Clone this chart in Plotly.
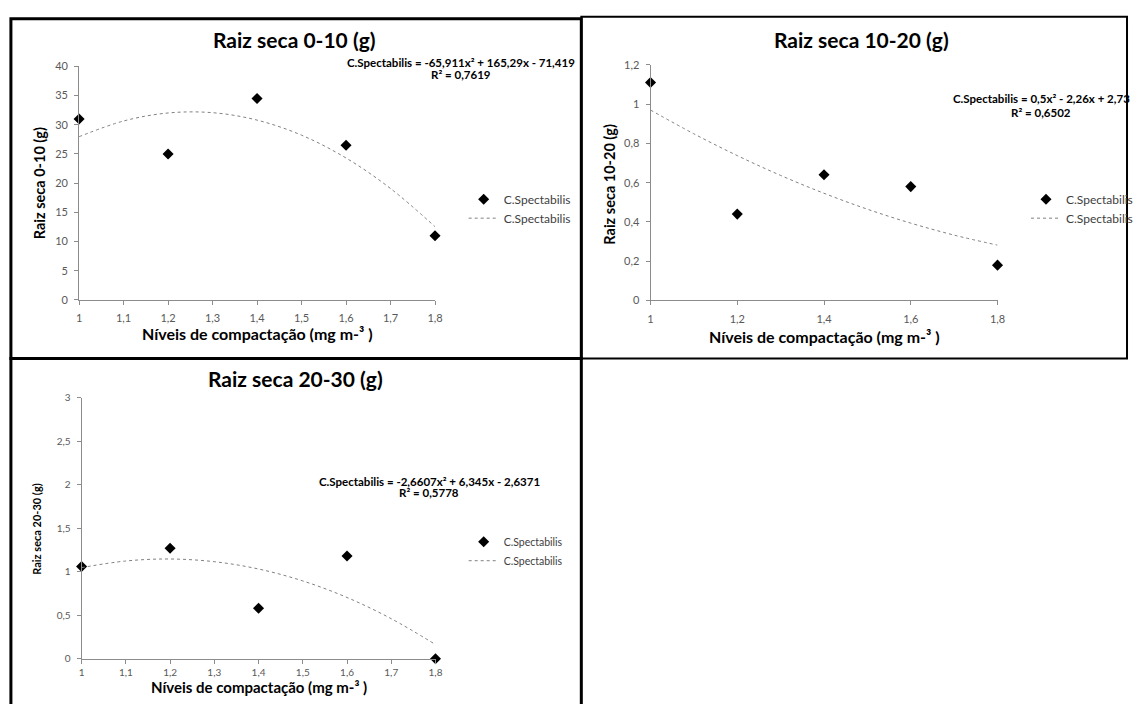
import plotly.graph_objects as go

W, H = 1138, 704

# ---- data ----
x_levels = [1.0, 1.2, 1.4, 1.6, 1.8]
raiz_0_10 = [31.0, 25.0, 34.5, 26.5, 11.0]
raiz_10_20 = [1.11, 0.44, 0.64, 0.58, 0.18]
raiz_20_30 = [1.06, 1.27, 0.58, 1.18, 0.0]

x_trend = [1.0, 1.1, 1.2, 1.3, 1.4, 1.5, 1.6, 1.7, 1.8]
trend_0_10 = [27.96, 30.65, 32.02, 32.07, 30.80, 28.22, 24.31, 19.09, 12.55]
trend_10_20 = [0.970, 0.849, 0.738, 0.637, 0.546, 0.465, 0.394, 0.333, 0.282]
trend_20_30 = [1.047, 1.123, 1.146, 1.115, 1.031, 0.894, 0.704, 0.460, 0.163]

titles = ["Raiz seca 0-10 (g)", "Raiz seca 10-20 (g)", "Raiz seca 20-30 (g)"]
ytitles = ["Raiz seca 0-10 (g)", "Raiz seca 10-20 (g)", "Raiz seca 20-30 (g)"]
xtitle = "Níveis de compactação (mg m-³ )"
equations = [
    "C.Spectabilis = -65,911x² + 165,29x - 71,419",
    "C.Spectabilis = 0,5x² - 2,26x + 2,73",
    "C.Spectabilis = -2,6607x² + 6,345x - 2,6371",
]
r2_texts = ["R² = 0,7619", "R² = 0,6502", "R² = 0,5778"]
series_name = "C.Spectabilis"

FONT = "Lato"
TICKC = "#595959"
AXC = "#8c8c8c"


def px(X):
    return X / W


def py(Y):
    return 1 - Y / H


fig = go.Figure()

# panel geometry in page pixels: (x_left, x_right, y_top, y_bottom)
panels = [
    dict(dom=(77, 437, 60.5, 298.5), yr=[0, 40], ydt=5, xdt=0.1, xs=raiz_0_10, tr=trend_0_10, tf=11, xso=4),
    dict(dom=(655, 1006, 59, 299), yr=[0, 1.2], ydt=0.2, xdt=0.2, xs=raiz_10_20, tr=trend_10_20, tf=11, xso=4),
    dict(dom=(79.5, 437.5, 398, 664), yr=[0, 3], ydt=0.5, xdt=0.1, xs=raiz_20_30, tr=trend_20_30, tf=10, xso=0),
]

legend_pos = [(466, 181, 12), (1035, 181, 12), (466, 530, 10.5)]
title_pos = [(295, 33, 21), (868, 33, 21), (296, 378, 21)]
xtitle_pos = [(257, 333, 16), (831, 336, 16), (259, 693, 15)]
ytitle_pos = [(37, 180, 14.5), (614, 180, 14.5), (34, 532, 11)]
eq_pos = [(463, 57, 69, 11.5), (1050, 93, 107, 11.5), (431, 483, 495, 11.5)]


def label(x, y, text, size, angle=0):
    return dict(x=px(x), y=py(y), xref="paper", yref="paper", xanchor="center",
                yanchor="middle", text=text, showarrow=False, textangle=angle,
                font=dict(family=FONT, size=size, color="black"))


annotations = []
for i, p in enumerate(panels):
    n = "" if i == 0 else str(i + 1)
    xa, ya = "x" + n, "y" + n
    x0, x1, y0, y1 = p["dom"]
    lg = "legend" if i == 0 else "legend" + str(i + 1)
    fig.add_trace(go.Scatter(
        x=x_levels, y=p["xs"], mode="markers", name=series_name,
        marker=dict(symbol="diamond", size=8.5, color="black"),
        xaxis=xa, yaxis=ya, legend=lg, cliponaxis=False))
    fig.add_trace(go.Scatter(
        x=x_trend, y=p["tr"], mode="lines", name=series_name,
        line=dict(color="#808080", width=1, dash="dot", shape="spline"),
        xaxis=xa, yaxis=ya, legend=lg))
    axcommon = dict(showgrid=False, zeroline=False, showline=True, linecolor=AXC,
                    linewidth=1, ticks="outside", tickcolor=AXC, ticklen=4,
                    tickfont=dict(family=FONT, size=p["tf"], color=TICKC))
    fig.update_layout(**{
        ("xaxis" + n): dict(domain=[px(x0), px(x1)], range=[1, 1.8], dtick=p["xdt"],
                            tick0=1, anchor=ya, ticklabelstandoff=p["xso"], **axcommon),
        ("yaxis" + n): dict(domain=[py(y1), py(y0)], range=p["yr"], dtick=p["ydt"],
                            anchor=xa, ticklabelstandoff=4, **axcommon),
    })
    lx, ly, lf = legend_pos[i]
    fig.update_layout(**{lg: dict(x=px(lx), y=py(ly), xanchor="left", yanchor="top",
                                  bgcolor="rgba(0,0,0,0)",
                                  font=dict(family=FONT, size=lf, color="#404040"),
                                  itemwidth=30, tracegroupgap=0)})
    tx, ty, ts = title_pos[i]
    annotations.append(label(tx, ty, "<b>" + titles[i] + "</b>", ts))
    tx, ty, ts = xtitle_pos[i]
    annotations.append(label(tx, ty, "<b>" + xtitle + "</b>", ts))
    tx, ty, ts = ytitle_pos[i]
    annotations.append(label(tx, ty, "<b>" + ytitles[i] + "</b>", ts, -90))
    ex, ey1, ey2, es = eq_pos[i]
    annotations.append(label(ex, ey1, "<b>" + equations[i] + "</b>", es))
    annotations.append(label(ex, ey2, "<b>" + r2_texts[i] + "</b>", es))

# panel frames (page pixels: left, top, right, bottom, width)
frames = [(8, 12, 585, 358, 3), (585, 10, 1137, 358, 2), (8, 358, 585, 712, 3)]
shapes = []
for (a, b, c, d, lw) in frames:
    shapes.append(dict(type="rect", xref="paper", yref="paper",
                       x0=px(a), x1=px(c), y0=py(d), y1=py(b),
                       line=dict(color="black", width=lw), fillcolor="rgba(0,0,0,0)"))

fig.update_layout(width=W, height=H, margin=dict(l=0, r=0, t=0, b=0),
                  paper_bgcolor="white", plot_bgcolor="white",
                  separators=",.", showlegend=True, hovermode=False,
                  annotations=annotations, shapes=shapes)

fig.write_html(
    "out.html",
    config={"displayModeBar": False},
    post_script="document.body.style.margin='0';document.body.style.overflow='hidden';",
)
